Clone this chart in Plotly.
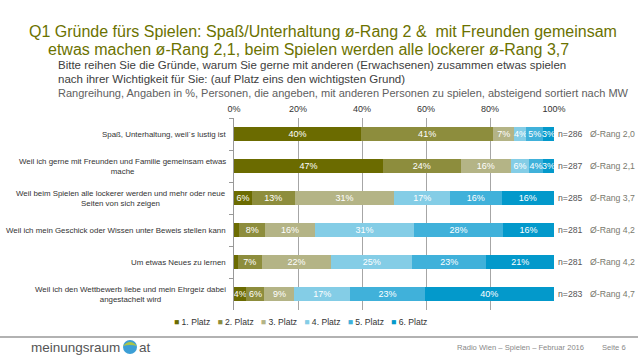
import plotly.graph_objects as go

categories = [
    "Spaß, Unterhaltung, weil´s lustig ist",
    "Weil ich gerne mit Freunden und Familie gemeinsam etwas<br>mache",
    "Weil beim Spielen alle lockerer werden und mehr oder neue<br>Seiten von sich zeigen",
    "Weil ich mein Geschick oder Wissen unter Beweis stellen kann",
    "Um etwas Neues zu lernen",
    "Weil ich den Wettbewerb liebe und mein Ehrgeiz dabei<br>angestachelt wird",
]
series_names = ["1. Platz", "2. Platz", "3. Platz", "4. Platz", "5. Platz", "6. Platz"]
platz1 = [39.7, 46.6, 5.6, 1.7, 1.2, 3.9]
platz2 = [41.3, 24.2, 13.4, 8.0, 7.4, 5.6]
platz3 = [6.6, 15.8, 31.1, 15.6, 21.8, 9.4]
platz4 = [3.8, 5.6, 17.4, 30.9, 25.3, 17.4]
platz5 = [5.2, 4.4, 16.1, 27.9, 23.2, 23.3]
platz6 = [3.4, 3.4, 16.4, 15.9, 21.1, 40.4]
n_values = [286, 287, 285, 281, 281, 283]
rang_values = ["2,0", "2,1", "3,7", "4,2", "4,2", "4,7"]
tick_vals = [0, 20, 40, 60, 80, 100]
tick_text = ["0%", "20%", "40%", "60%", "80%", "100%"]
colors = ["#6b6b00", "#8d8d3d", "#b4b486", "#84cde6", "#40b1da", "#0399cb"]

W, H = 638, 359
L, R, T, B = 234, 84, 118, 49
PW, PH = W - L - R, H - T - B


def px(x):
    return (x - L) / PW


def py(y):
    return (H - B - y) / PH


FONT = "Liberation Sans, Arial, sans-serif"

fig = go.Figure()
for name, vals, col in zip(series_names, [platz1, platz2, platz3, platz4, platz5, platz6], colors):
    fig.add_trace(go.Bar(
        y=categories, x=vals, name=name, orientation="h",
        marker=dict(color=col, line=dict(width=0)),
        text=[f"{v:.0f}%" if v >= 2.5 else "" for v in vals],
        textposition="inside", insidetextanchor="middle", textangle=0,
        textfont=dict(size=9, color="white", family=FONT),
        width=0.42, showlegend=False, hoverinfo="skip",
    ))

annotations = []
for c in categories:
    annotations.append(dict(
        x=px(228), y=c, xref="paper", yref="y", text=c, showarrow=False,
        xanchor="right", yanchor="middle", align="center",
        font=dict(size=7.9, color="#333333", family=FONT),
    ))
for c, n, r in zip(categories, n_values, rang_values):
    annotations.append(dict(
        x=px(556), y=c, xref="paper", yref="y", text=f"n={n}", showarrow=False,
        xanchor="left", yanchor="middle",
        font=dict(size=8.7, color="#555555", family=FONT),
    ))
    annotations.append(dict(
        x=px(588), y=c, xref="paper", yref="y", text=f"Ø-Rang {r}", showarrow=False,
        xanchor="left", yanchor="middle",
        font=dict(size=8.7, color="#7a7a6e", family=FONT),
    ))

titles = [
    (27, 31, "Q1 Gründe fürs Spielen: Spaß/Unterhaltung ø-Rang 2 &  mit Freunden gemeinsam", 16, "#6b7200"),
    (46, 50, "etwas machen ø-Rang 2,1, beim Spielen werden alle lockerer ø-Rang 3,7", 16, "#6b7200"),
    (56, 65, "Bitte reihen Sie die Gründe, warum Sie gerne mit anderen (Erwachsenen) zusammen etwas spielen", 11.5, "#404040"),
    (56, 79, "nach ihrer Wichtigkeit für Sie: (auf Platz eins den wichtigsten Grund)", 11.5, "#404040"),
    (56, 93, "Rangreihung, Angaben in %, Personen, die angeben, mit anderen Personen zu spielen, absteigend sortiert nach MW", 11, "#606060"),
]
for x0, y0, t, s, col in titles:
    annotations.append(dict(
        x=px(x0), y=py(y0), xref="paper", yref="paper", text=t, showarrow=False,
        xanchor="left", yanchor="middle",
        font=dict(size=s, color=col, family=FONT),
    ))

legend_text = "   ".join(
    f"<span style='color:{col}'>■</span> {name}" for name, col in zip(series_names, colors)
)
annotations.append(dict(
    x=px(300), y=py(322), xref="paper", yref="paper", text=legend_text, showarrow=False,
    xanchor="center", yanchor="middle",
    font=dict(size=8.6, color="#333333", family=FONT),
))

annotations.append(dict(
    x=px(29), y=py(347), xref="paper", yref="paper", text="meinungsraum", showarrow=False,
    xanchor="left", yanchor="middle",
    font=dict(size=13.5, color="#555555", family=FONT),
))
annotations.append(dict(
    x=px(137), y=py(347), xref="paper", yref="paper", text="at", showarrow=False,
    xanchor="left", yanchor="middle",
    font=dict(size=13.5, color="#555555", family=FONT),
))
annotations.append(dict(
    x=px(586), y=py(347), xref="paper", yref="paper", text="Radio Wien – Spielen – Februar 2016", showarrow=False,
    xanchor="right", yanchor="middle",
    font=dict(size=7.6, color="#888888", family=FONT),
))
annotations.append(dict(
    x=px(628), y=py(347), xref="paper", yref="paper", text="Seite 6", showarrow=False,
    xanchor="right", yanchor="middle",
    font=dict(size=7.6, color="#888888", family=FONT),
))

shapes = [
    dict(type="line", xref="paper", yref="paper", x0=px(0), x1=px(638), y0=py(337), y1=py(337),
         line=dict(color="#999999", width=1.5)),
    dict(type="circle", xref="paper", yref="paper", x0=px(123), x1=px(137), y0=py(354), y1=py(340),
         fillcolor="#3c9fd6", line=dict(width=0)),
    dict(type="path", xref="paper", yref="paper",
         path=f"M {px(123)},{py(346)} Q {px(130)},{py(338)} {px(137)},{py(346)} Q {px(130)},{py(344)} {px(123)},{py(346)} Z",
         fillcolor="#a9c44a", line=dict(width=0)),
]

fig.update_layout(
    width=W, height=H,
    margin=dict(l=L, r=R, t=T, b=B, autoexpand=False),
    barmode="stack",
    paper_bgcolor="white", plot_bgcolor="white",
    uniformtext=dict(minsize=9, mode="show"),
    showlegend=False,
    hovermode=False,
    annotations=annotations,
    shapes=shapes,
    xaxis=dict(
        side="top", range=[0, 100], tickvals=tick_vals, ticktext=tick_text,
        showgrid=True, gridcolor="#a6a6a6", gridwidth=1, zeroline=False,
        showline=False, ticks="", ticklabelstandoff=3, fixedrange=True,
        tickfont=dict(size=9, color="#333333", family=FONT),
    ),
    yaxis=dict(
        type="category", autorange="reversed", showticklabels=False,
        showline=True, linecolor="#999999", linewidth=1,
        ticks="outside", ticklen=4, tickcolor="#999999", tickson="boundaries",
        showgrid=False, zeroline=False, fixedrange=True,
    ),
)

fig.write_html(
    "out.html",
    config={"displayModeBar": False, "staticPlot": True},
    post_script="document.body.style.margin='0';document.body.style.padding='0';document.body.style.overflow='hidden';",
)
